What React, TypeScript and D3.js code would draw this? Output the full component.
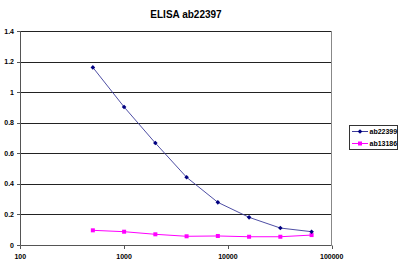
import React, { useEffect, useRef } from 'react';
import * as d3 from 'd3';

const dilutions = [500, 1000, 2000, 4000, 8000, 16000, 32000, 64000];
const ab22399 = [1.162, 0.903, 0.667, 0.443, 0.279, 0.181, 0.111, 0.087];
const ab13186 = [0.096, 0.087, 0.07, 0.057, 0.059, 0.054, 0.054, 0.065];
const xTicks = [100, 1000, 10000, 100000];
const yTicks = [0, 0.2, 0.4, 0.6, 0.8, 1, 1.2, 1.4];

// small square diamond, Excel-style
const diamond = 'M0,-2.3L2.3,0L0,2.3L-2.3,0Z';

const App: React.FC = () => {
  const svgRef = useRef<SVGSVGElement | null>(null);

  useEffect(() => {
    if (!svgRef.current) return;
    const width = 400;
    const height = 262;

    const svg = d3.select(svgRef.current)
      .attr('width', width)
      .attr('height', height)
      .style('font-family', 'Arial, "Liberation Sans", sans-serif');
    svg.selectAll('*').remove();

    const x = d3.scaleLog().domain([100, 100000]).range([20.3, 331.7]);
    const y = d3.scaleLinear().domain([0, 1.4]).range([245, 31]);

    svg.append('rect').attr('width', width).attr('height', height).attr('fill', '#fff');

    // title
    svg.append('text')
      .attr('x', 186).attr('y', 17.5)
      .attr('text-anchor', 'middle')
      .attr('font-size', 10).attr('font-weight', 'bold')
      .text('ELISA ab22397');

    // gridlines
    svg.append('g').selectAll('line')
      .data(yTicks.filter(t => t > 0))
      .join('line')
      .attr('x1', x(100)).attr('x2', x(100000))
      .attr('y1', d => Math.round(y(d)) + 0.5).attr('y2', d => Math.round(y(d)) + 0.5)
      .attr('stroke', '#222').attr('stroke-width', 1);

    // right border of plot area
    svg.append('line')
      .attr('x1', 331.5).attr('x2', 331.5).attr('y1', y(1.4)).attr('y2', y(0))
      .attr('stroke', '#888');

    // axes lines
    svg.append('line')
      .attr('x1', 20.5).attr('x2', 20.5).attr('y1', y(1.4)).attr('y2', y(0))
      .attr('stroke', '#555');
    svg.append('line')
      .attr('x1', x(100)).attr('x2', x(100000)).attr('y1', 245.5).attr('y2', 245.5)
      .attr('stroke', '#555');

    // y ticks
    const yg = svg.append('g');
    yg.selectAll('line').data(yTicks).join('line')
      .attr('x1', 17).attr('x2', 20.5)
      .attr('y1', d => Math.round(y(d)) + 0.5).attr('y2', d => Math.round(y(d)) + 0.5)
      .attr('stroke', '#555');
    yg.selectAll('text').data(yTicks).join('text')
      .attr('x', 14).attr('y', d => y(d) + 2.5)
      .attr('text-anchor', 'end')
      .attr('font-size', 7).attr('font-weight', 'bold')
      .text(d => d3.format('~g')(d));

    // x ticks
    const xg = svg.append('g');
    xg.selectAll('line').data(xTicks).join('line')
      .attr('x1', d => Math.round(x(d)) + 0.5).attr('x2', d => Math.round(x(d)) + 0.5)
      .attr('y1', 245.5).attr('y2', 249)
      .attr('stroke', '#555');
    xg.selectAll('text').data(xTicks).join('text')
      .attr('x', d => x(d)).attr('y', 258.5)
      .attr('text-anchor', 'middle')
      .attr('font-size', 7).attr('font-weight', 'bold')
      .text(d => String(d));

    const line = d3.line<number>()
      .x((_, i) => x(dilutions[i]))
      .y(d => y(d));

    // ab13186 (magenta, squares)
    svg.append('path').datum(ab13186)
      .attr('d', line).attr('fill', 'none')
      .attr('stroke', '#ff00ff').attr('stroke-width', 1);
    svg.append('g').selectAll('rect').data(ab13186).join('rect')
      .attr('x', (_, i) => x(dilutions[i]) - 2).attr('y', d => y(d) - 2)
      .attr('width', 4).attr('height', 4).attr('fill', '#ff00ff');

    // ab22399 (navy, diamonds)
    svg.append('path').datum(ab22399)
      .attr('d', line).attr('fill', 'none')
      .attr('stroke', '#3a3a9a').attr('stroke-width', 0.9);
    svg.append('g').selectAll('path.m').data(ab22399).join('path')
      .attr('d', diamond)
      .attr('transform', (d, i) => `translate(${x(dilutions[i])},${y(d)})`)
      .attr('fill', '#000080');

    // legend
    const lg = svg.append('g');
    lg.append('rect')
      .attr('x', 349.5).attr('y', 125.5).attr('width', 48).attr('height', 24)
      .attr('fill', '#fff').attr('stroke', '#333');
    lg.append('line').attr('x1', 352).attr('x2', 368).attr('y1', 131.5).attr('y2', 131.5)
      .attr('stroke', '#3a3a9a');
    lg.append('path')
      .attr('d', diamond)
      .attr('transform', 'translate(360,131.5)').attr('fill', '#000080');
    lg.append('text').attr('x', 369.5).attr('y', 134)
      .attr('font-size', 7).attr('font-weight', 'bold').text('ab22399');
    lg.append('line').attr('x1', 352).attr('x2', 368).attr('y1', 143.5).attr('y2', 143.5)
      .attr('stroke', '#ff00ff');
    lg.append('rect').attr('x', 358).attr('y', 141.5).attr('width', 4).attr('height', 4)
      .attr('fill', '#ff00ff');
    lg.append('text').attr('x', 369.5).attr('y', 146)
      .attr('font-size', 7).attr('font-weight', 'bold').text('ab13186');
  }, []);

  return (
    <svg ref={svgRef} style={{ position: 'absolute', left: 0, top: 0, display: 'block' }} />
  );
};

export default App;
